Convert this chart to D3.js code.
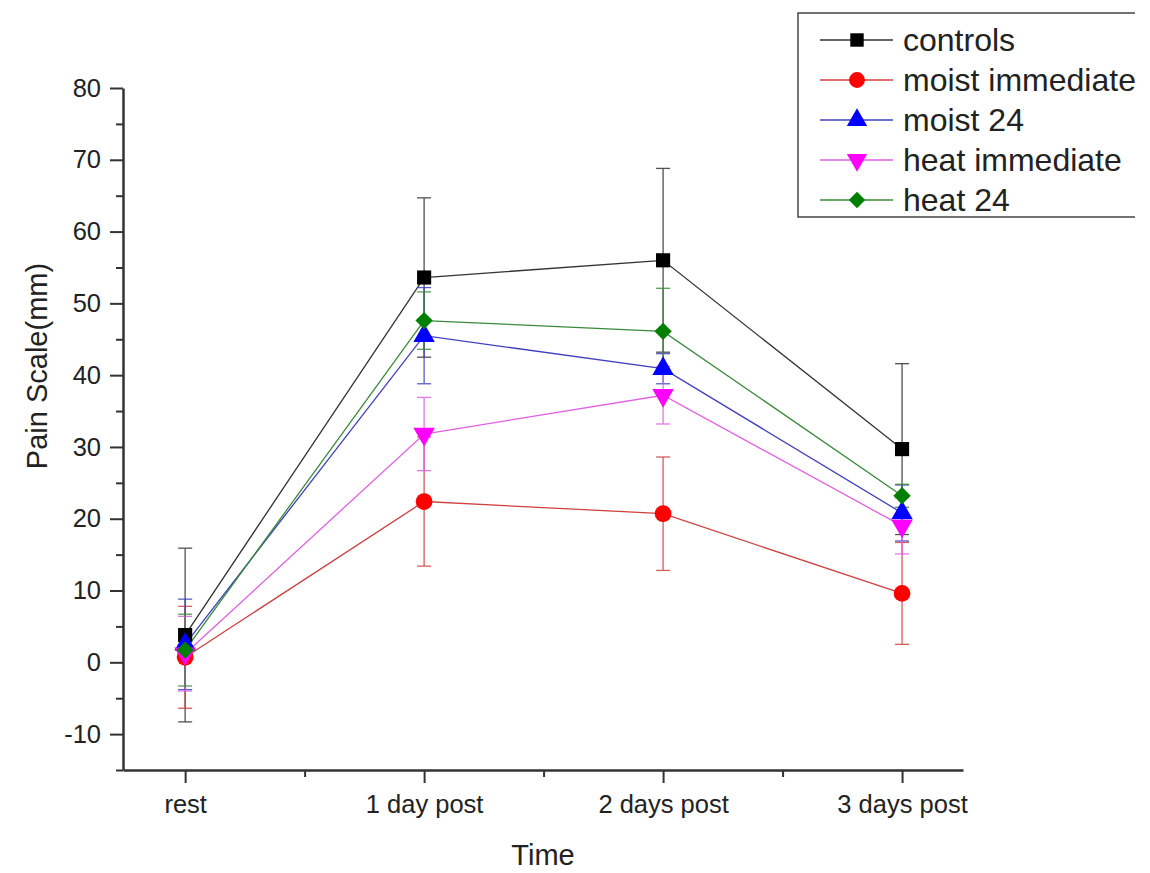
<!DOCTYPE html>
<html><head><meta charset="utf-8">
<script src="https://cdn.jsdelivr.net/npm/d3@7"></script>
<style>body{margin:0;background:#fff}svg{display:block}text{font-family:"Liberation Sans",Arial,sans-serif;fill:#222}</style>
</head><body>
<svg id="c" width="1150" height="873"></svg>
<script>
const categories = ["rest", "1 day post", "2 days post", "3 days post"];
const seriesNames = ["controls", "moist immediate", "moist 24", "heat immediate", "heat 24"];
const controls = [3.8, 53.6, 56.0, 29.7];
const controlsErr = [12.1, 11.1, 12.8, 11.9];
const moistImmediate = [0.7, 22.4, 20.7, 9.6];
const moistImmediateErr = [7.1, 9.0, 7.9, 7.1];
const moist24 = [2.5, 45.5, 40.9, 20.8];
const moist24Err = [6.3, 6.7, 2.1, 3.9];
const heatImmediate = [1.2, 31.8, 37.2, 19.0];
const heatImmediateErr = [5.2, 5.1, 4.0, 3.9];
const heat24 = [1.7, 47.6, 46.1, 23.2];
const heat24Err = [5.0, 4.0, 6.0, 1.6];
const yTicks = [-10, 0, 10, 20, 30, 40, 50, 60, 70, 80];

const colors = ["#000000", "#ff0000", "#0000ff", "#ff00ff", "#008000"];
const lineColors = ["#333333", "#d04040", "#4040c0", "#e060e0", "#3a8a3a"];
const symbols = [d3.symbolSquare, d3.symbolCircle, d3.symbolTriangle, d3.symbolTriangle, d3.symbolSquare];
const symSizes = [200, 220, 200, 200, 150];
const rotations = [0, 0, 0, 180, 45];

const series = seriesNames.map((n, i) => ({
  name: n,
  values: [controls, moistImmediate, moist24, heatImmediate, heat24][i],
  errs: [controlsErr, moistImmediateErr, moist24Err, heatImmediateErr, heat24Err][i],
  i
}));

const svg = d3.select("#c");
const x = d3.scaleLinear().domain([-0.26, 3.255]).range([123, 963]);
const y = d3.scaleLinear().domain([-15, 80]).range([770, 88]);

// axes
svg.append("g").attr("transform", "translate(123,0)")
  .call(d3.axisLeft(y).tickValues(yTicks).tickFormat(d => String(d)).tickSize(13).tickPadding(9).tickSizeOuter(0));
const yMinor = svg.append("g").attr("transform", "translate(123,0)")
  .call(d3.axisLeft(y).tickValues(d3.range(-15, 80, 10)).tickSize(7).tickFormat("").tickSizeOuter(0));
yMinor.select(".domain").remove();
svg.append("g").attr("transform", "translate(0,770)")
  .call(d3.axisBottom(x).tickValues([0, 1, 2, 3]).tickFormat(d => categories[d]).tickSize(13).tickPadding(12).tickSizeOuter(0));
const xMinor = svg.append("g").attr("transform", "translate(0,770)")
  .call(d3.axisBottom(x).tickValues([0.5, 1.5, 2.5]).tickSize(7).tickFormat("").tickSizeOuter(0));
xMinor.select(".domain").remove();
svg.selectAll(".domain").attr("stroke", "#333").attr("stroke-width", 2.5);
svg.selectAll(".tick line").attr("stroke", "#333").attr("stroke-width", 2);
svg.selectAll(".tick text").attr("font-size", 25.5).attr("fill", "#222").style("font-family", "Liberation Sans, Arial, sans-serif");

// axis titles
svg.append("text").attr("x", 543).attr("y", 865).attr("text-anchor", "middle").attr("font-size", 29).text("Time");
svg.append("text").attr("transform", "translate(47,366) rotate(-90)").attr("text-anchor", "middle").attr("font-size", 29).text("Pain Scale(mm)");

// lines
const line = d3.line().x((d, j) => x(j)).y(d => y(d));
const plot = svg.append("g");
series.forEach(s => {
  plot.append("path").attr("d", line(s.values)).attr("fill", "none")
    .attr("stroke", lineColors[s.i]).attr("stroke-width", 1.3);
});
// error bars
series.forEach(s => {
  const g = plot.append("g").attr("stroke", lineColors[s.i]).attr("stroke-width", 1.3).attr("opacity", 0.85);
  s.values.forEach((v, j) => {
    const e = s.errs[j];
    g.append("line").attr("x1", x(j)).attr("x2", x(j)).attr("y1", y(v + e)).attr("y2", y(v - e));
    [v + e, v - e].forEach(t => g.append("line").attr("x1", x(j) - 7).attr("x2", x(j) + 7).attr("y1", y(t)).attr("y2", y(t)));
  });
});
// markers
series.forEach(s => {
  s.values.forEach((v, j) => {
    plot.append("path").attr("d", d3.symbol(symbols[s.i], symSizes[s.i])())
      .attr("transform", `translate(${x(j)},${y(v)}) rotate(${rotations[s.i]})`)
      .attr("fill", colors[s.i]);
  });
});

// legend
const lg = svg.append("g");
lg.append("path").attr("d", "M1135,13H798V217H1135").attr("fill", "none").attr("stroke", "#444").attr("stroke-width", 1.5);
series.forEach(s => {
  const ly = 40 + s.i * 40;
  lg.append("line").attr("x1", 820).attr("x2", 893).attr("y1", ly).attr("y2", ly).attr("stroke", lineColors[s.i]).attr("stroke-width", 1.3);
  lg.append("path").attr("d", d3.symbol(symbols[s.i], symSizes[s.i] * 0.9)())
    .attr("transform", `translate(857,${ly}) rotate(${rotations[s.i]})`).attr("fill", colors[s.i]);
  lg.append("text").attr("x", 903).attr("y", ly).attr("dy", "0.35em").attr("font-size", 32).text(s.name);
});
</script>
</body></html>
